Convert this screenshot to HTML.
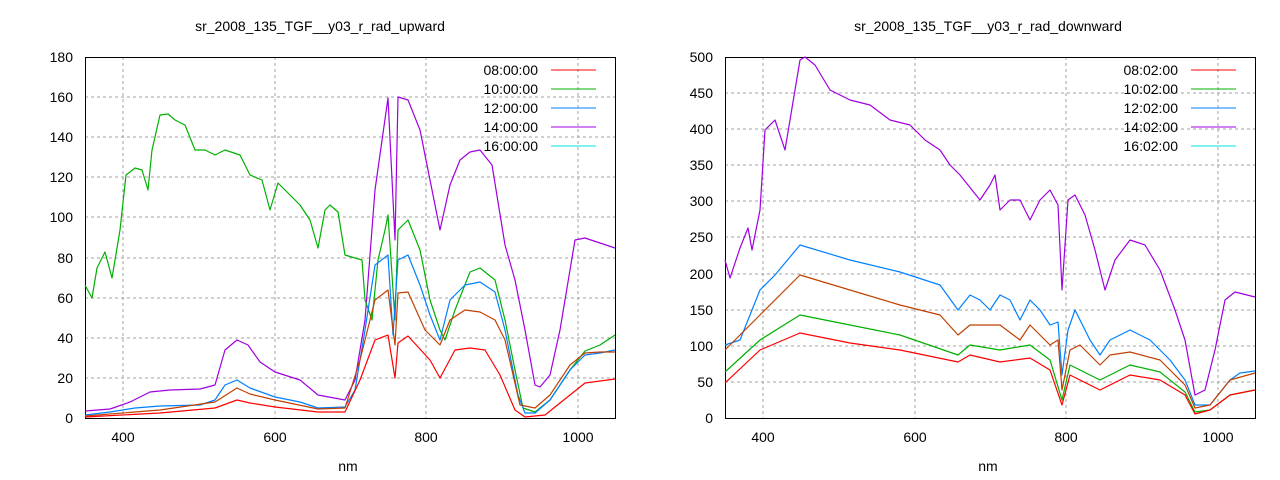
<!DOCTYPE html><html><head><style>body{margin:0;background:#fff}svg{display:block}text{font-family:"Liberation Sans",sans-serif;font-size:14px;fill:#000}</style></head><body>
<svg width="1280" height="480" xmlns="http://www.w3.org/2000/svg">
<g stroke="#a0a0a0" stroke-dasharray="3,3" stroke-width="1">
<path d="M85,378H615M85,338H615M85,298H615M85,258H615M85,217H615M85,177H615M85,137H615M85,97H615M123,57V418M275,57V418M426,57V418M578,57V418"/>
<path d="M725,382H1255M725,346H1255M725,310H1255M725,274H1255M725,237H1255M725,201H1255M725,165H1255M725,129H1255M725,93H1255M763,57V418M915,57V418M1066,57V418M1218,57V418"/>
</g>
<rect x="85.5" y="57.5" width="530" height="361" fill="none" stroke="#000"/>
<rect x="725.5" y="57.5" width="530" height="361" fill="none" stroke="#000"/>
<text x="320" y="31" text-anchor="middle">sr_2008_135_TGF__y03_r_rad_upward</text>
<text x="988" y="31" text-anchor="middle">sr_2008_135_TGF__y03_r_rad_downward</text>
<text x="348" y="471" text-anchor="middle">nm</text><text x="988" y="471" text-anchor="middle">nm</text>
<g text-anchor="end"><text x="73" y="423">0</text><text x="73" y="383">20</text><text x="73" y="343">40</text><text x="73" y="303">60</text><text x="73" y="263">80</text><text x="73" y="222">100</text><text x="73" y="182">120</text><text x="73" y="142">140</text><text x="73" y="102">160</text><text x="73" y="62">180</text>
<text x="713" y="423">0</text><text x="713" y="387">50</text><text x="713" y="351">100</text><text x="713" y="315">150</text><text x="713" y="279">200</text><text x="713" y="242">250</text><text x="713" y="206">300</text><text x="713" y="170">350</text><text x="713" y="134">400</text><text x="713" y="98">450</text><text x="713" y="62">500</text></g>
<g text-anchor="middle"><text x="123" y="442">400</text><text x="275" y="442">600</text><text x="426" y="442">800</text><text x="578" y="442">1000</text><text x="763" y="442">400</text><text x="915" y="442">600</text><text x="1066" y="442">800</text><text x="1218" y="442">1000</text></g>
<g text-anchor="end"><text x="538" y="75">08:00:00</text><text x="538" y="94">10:00:00</text><text x="538" y="113">12:00:00</text><text x="538" y="132">14:00:00</text><text x="538" y="151">16:00:00</text>
<text x="1178" y="75">08:02:00</text><text x="1178" y="94">10:02:00</text><text x="1178" y="113">12:02:00</text><text x="1178" y="132">14:02:00</text><text x="1178" y="151">16:02:00</text></g>
<g stroke-width="1"><path d="M551,70H596" stroke="#f00"/><path d="M551,89H596" stroke="#00b000"/><path d="M551,108H596" stroke="#0080ff"/><path d="M551,127H596" stroke="#a000e0"/><path d="M551,146H596" stroke="#00e0e0"/>
<path d="M1191,70H1236" stroke="#f00"/><path d="M1191,89H1236" stroke="#00b000"/><path d="M1191,108H1236" stroke="#0080ff"/><path d="M1191,127H1236" stroke="#a000e0"/><path d="M1191,146H1236" stroke="#00e0e0"/></g>
<g fill="none" stroke-width="1.2" stroke-linejoin="round">
<polyline stroke="#a000e0" points="85,411 110,409 130,402 150,392 170,390 200,389 215,385 225,350 237,340 248,345 260,362 275,372 300,380 318,395 345,400 355,380 365,320 375,190 388,98 395,240 398,97 408,100 420,130 430,180 440,230 450,185 460,160 470,152 480,150 492,165 505,245 515,280 525,330 535,385 540,387 550,375 560,330 575,240 585,238 600,243 615,248"/>
<polyline stroke="#00b000" points="85,285 92,298 97,268 105,252 112,278 120,230 126,175 135,168 142,170 148,190 152,150 160,115 168,114 175,120 185,125 195,150 205,150 215,155 225,150 240,155 250,175 262,180 270,210 278,183 290,195 300,205 310,220 318,248 325,210 330,205 338,212 345,255 355,258 362,260 365,300 372,320 378,260 385,230 388,215 395,320 398,230 408,220 420,250 430,300 440,330 445,340 455,310 470,272 480,268 495,280 505,320 515,370 523,408 535,412 550,400 570,370 585,351 600,345 615,335"/>
<polyline stroke="#0080ff" points="85,415 110,412 135,408 160,406 200,405 215,400 225,385 237,380 250,388 275,397 300,402 318,408 345,407 355,390 365,330 375,265 388,255 393,335 398,260 408,255 420,285 430,315 440,340 450,300 465,285 480,282 495,292 505,330 518,395 525,413 535,413 550,400 570,370 585,355 600,353 615,350"/>
<polyline stroke="#c04000" points="85,416 160,410 215,402 237,388 250,394 275,400 318,409 345,408 360,360 375,300 388,290 395,345 398,293 408,292 425,330 440,345 450,320 465,310 480,312 495,320 505,340 520,405 535,408 550,395 570,365 585,353 600,352 615,352"/>
<polyline stroke="#f00" points="85,417 160,413 215,408 237,400 250,403 275,407 318,412 345,412 360,380 375,340 388,335 395,378 398,343 408,336 430,360 440,378 455,350 470,348 485,350 500,375 515,410 525,417 545,415 570,395 585,383 615,379"/>
<polyline stroke="#a000e0" points="725,260 730,278 740,248 748,228 752,250 760,210 765,130 775,120 785,150 790,120 800,60 805,57 815,65 830,90 850,100 870,105 890,120 910,125 925,140 940,150 950,165 960,175 980,200 990,185 995,175 1000,210 1010,200 1020,200 1030,220 1040,200 1050,190 1058,205 1062,290 1068,200 1075,195 1085,215 1095,250 1105,290 1115,260 1130,240 1145,245 1160,270 1175,310 1185,340 1195,395 1205,390 1215,350 1225,300 1235,292 1255,297"/>
<polyline stroke="#0080ff" points="725,345 740,340 760,290 775,275 800,245 850,260 900,272 940,285 958,310 970,295 980,300 990,310 1000,295 1010,300 1020,320 1030,300 1040,310 1050,325 1058,322 1062,375 1068,330 1075,310 1090,340 1100,355 1110,340 1130,330 1150,340 1170,360 1185,380 1195,405 1210,405 1230,380 1240,373 1255,371"/>
<polyline stroke="#c04000" points="725,350 760,315 800,275 850,290 900,305 940,315 958,335 970,325 1000,325 1020,340 1030,325 1050,345 1058,340 1062,390 1070,350 1080,345 1100,365 1110,355 1130,352 1160,360 1185,385 1195,408 1210,405 1230,380 1255,373"/>
<polyline stroke="#00b000" points="725,372 760,340 800,315 850,325 900,335 958,355 970,345 1000,350 1030,345 1050,360 1062,400 1070,365 1100,380 1130,365 1160,372 1185,392 1195,412 1210,410 1230,395 1255,390"/>
<polyline stroke="#f00" points="725,383 760,350 800,333 850,343 900,350 958,362 970,355 1000,362 1030,358 1050,370 1062,405 1070,375 1100,390 1130,375 1160,380 1185,395 1195,414 1210,410 1230,395 1255,390"/>
</g>
</svg></body></html>
